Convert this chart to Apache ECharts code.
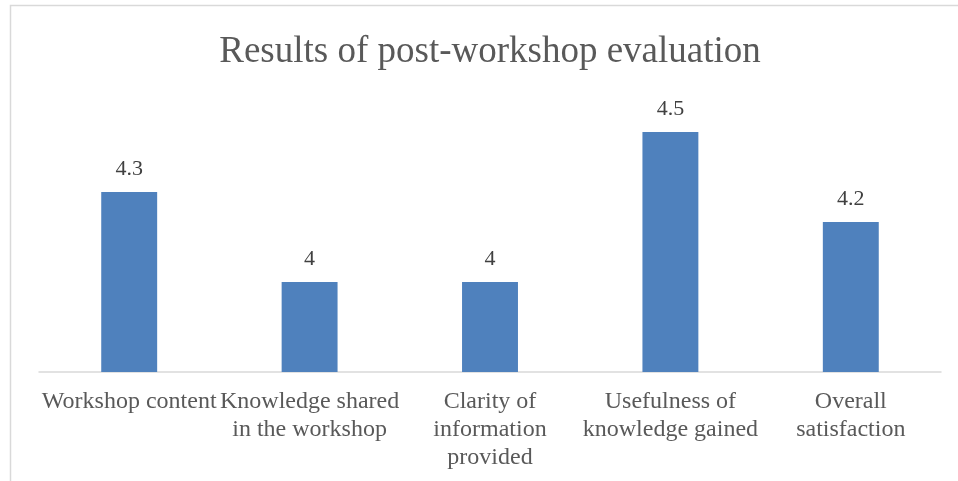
<!DOCTYPE html>
<html><head><meta charset="utf-8">
<script src="https://cdn.jsdelivr.net/npm/echarts@6/dist/echarts.min.js"></script>
<style>html,body{margin:0;padding:0;background:#fff}#c{width:958px;height:481px}</style>
</head><body><div id="c"></div>
<script>
const titleText = 'Results of post-workshop evaluation';
const categories = ['Workshop content', 'Knowledge shared in the workshop', 'Clarity of information provided', 'Usefulness of knowledge gained', 'Overall satisfaction'];
const tickLabels = ['Workshop content', 'Knowledge shared\nin the workshop', 'Clarity of\ninformation\nprovided', 'Usefulness of\nknowledge gained', 'Overall\nsatisfaction'];
const scores = [4.3, 4.0, 4.0, 4.5, 4.2];

const chart = echarts.init(document.getElementById('c'), null, {renderer: 'canvas'});
const font = '"Liberation Serif", "Times New Roman", serif';
chart.setOption({
  animation: false,
  backgroundColor: '#fff',
  graphic: [{type: 'rect', shape: {x: 10.5, y: 5.5, width: 1000, height: 600}, style: {fill: 'none', stroke: '#d9d9d9', lineWidth: 1.5}, silent: true}],
  title: {text: titleText, left: 485, top: 29, textAlign: 'center',
    textStyle: {fontFamily: font, fontSize: 37, fontWeight: 'normal', color: '#595959'}},
  grid: {left: 39, right: 17, top: 72, bottom: 109, containLabel: false},
  xAxis: {type: 'category', data: categories,
    axisLine: {lineStyle: {color: '#d9d9d9', width: 1.5}},
    axisTick: {show: false},
    axisLabel: {interval: 0, margin: 16, color: '#595959', fontFamily: font, fontSize: 24, lineHeight: 28,
      formatter: (v, i) => tickLabels[i]}},
  yAxis: {type: 'value', min: 3.7, max: 4.7, show: false, splitLine: {show: false}},
  series: [{type: 'bar', data: scores, barWidth: '31%', itemStyle: {color: '#4F81BD'},
    label: {show: true, position: 'top', distance: 12, color: '#404040', fontFamily: font, fontSize: 22,
      formatter: p => String(p.value)}}]
});
</script></body></html>
